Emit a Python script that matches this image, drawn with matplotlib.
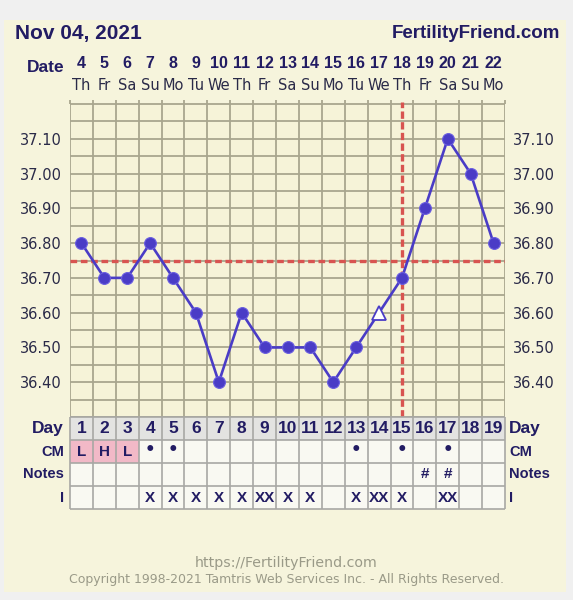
import numpy as np
import matplotlib
matplotlib.use('Agg')
import matplotlib.pyplot as plt
import matplotlib.transforms as mtransforms
from matplotlib.patches import Rectangle

days = list(range(1, 20))
dates = list(range(4, 23))
weekdays = ['Th', 'Fr', 'Sa', 'Su', 'Mo', 'Tu', 'We', 'Th', 'Fr', 'Sa',
            'Su', 'Mo', 'Tu', 'We', 'Th', 'Fr', 'Sa', 'Su', 'Mo']
temps = [36.80, 36.70, 36.70, 36.80, 36.70, 36.60, 36.40, 36.60, 36.50, 36.50,
         36.50, 36.40, 36.50, 36.60, 36.70, 36.90, 37.10, 37.00, 36.80]
open_day = 14
coverline = 36.75
ovulation_day = 15
temp_ticks = [36.40, 36.50, 36.60, 36.70, 36.80, 36.90, 37.00, 37.10]
cm = ['L', 'H', 'L', '•', '•', '', '', '', '', '', '', '', '•', '', '•', '', '•', '', '']
notes = ['', '', '', '', '', '', '', '', '', '', '', '', '', '', '', '#', '#', '', '']
intercourse = ['', '', '', 'X', 'X', 'X', 'X', 'X', 'XX', 'X', 'X', '', 'X', 'XX', 'X', '', 'XX', '', '']
row_labels = ['Day', 'CM', 'Notes', 'I']

navy = '#221c63'
blue = '#4a3cc6'
red = '#d85450'
gridc = '#a9a68e'
tgrid = '#a8a8a4'
bold_font = 'Liberation Sans'
W, H = 573, 600


def fx(x):
    return x / W


def fy(y):
    return 1 - y / H


fig = plt.figure(figsize=(W / 100, H / 100), dpi=100, facecolor='#f0f0f0')
bg = fig.add_axes([0, 0, 1, 1], zorder=-10)
bg.set_xlim(0, W)
bg.set_ylim(H, 0)
bg.axis('off')
bg.add_patch(Rectangle((4, 20), 562, 572, facecolor='#f6f4dc', edgecolor='none'))

# temperature chart
ax = fig.add_axes([fx(70), fy(417), fx(435), 313 / H])
ax.set_facecolor('#f6f3d8')
ax.set_xlim(0.5, 19.5)
ax.set_ylim(36.30, 37.20)
for s in ax.spines.values():
    s.set_visible(False)
xs = np.arange(0.5, 19.6, 1)
ax.vlines(xs, 36.30, 37.20, color=gridc, lw=1.3, zorder=1)
ax.vlines(xs, 37.20, 37.212, color=gridc, lw=1.3, zorder=1, clip_on=False)
ax.hlines(np.arange(36.30, 37.21, 0.05), 0.5, 19.5, color=gridc, lw=1.3, zorder=1, clip_on=False)
ax.axhline(coverline, color=red, lw=2.4, ls=(0, (2.0, 1.1)), zorder=2)
ax.plot([ovulation_day, ovulation_day], [36.30, 37.205], color=red, lw=2.4,
        ls=(0, (2.2, 1.0)), zorder=2, clip_on=False)
ax.plot(days, temps, color=blue, lw=1.9, zorder=3)
cd = [d for d in days if d != open_day]
ct = [t for d, t in zip(days, temps) if d != open_day]
ax.plot(cd, ct, ls='none', marker='o', ms=8.5, color=blue, mec='#6a5ee0', mew=0.8, zorder=4)
ax.plot([open_day], [temps[days.index(open_day)]], ls='none', marker='^', ms=10,
        mfc='white', mec=blue, mew=1.3, zorder=4)
ax.set_xticks([])
ax.set_yticks(temp_ticks)
ax.set_yticklabels(['%.2f' % t for t in temp_ticks])
ax.tick_params(axis='y', length=0, pad=6, labelsize=10.5, labelcolor='#2a2a48',
               labelright=True)

# header
tr = mtransforms.blended_transform_factory(ax.transData, fig.transFigure)
for d, n, w in zip(days, dates, weekdays):
    ax.text(d, fy(63), str(n), transform=tr, ha='center', va='center',
            fontsize=11.5, fontweight='bold', family=bold_font, color=navy)
    ax.text(d, fy(85), w, transform=tr, ha='center', va='center',
            fontsize=10.5, color='#2a2a48')
fig.text(fx(64), fy(68), 'Date', ha='right', va='center', fontsize=12.5,
         fontweight='bold', family=bold_font, color=navy)
fig.text(fx(15), fy(33), 'Nov 04, 2021', ha='left', va='center', fontsize=15,
         fontweight='bold', family=bold_font, color=navy)
fig.text(fx(560), fy(33), 'FertilityFriend.com', ha='right', va='center',
         fontsize=13.5, fontweight='bold', family=bold_font, color=navy)

# table
tb = fig.add_axes([fx(70), fy(509), fx(435), 92 / H])
tb.set_xlim(0.5, 19.5)
tb.set_ylim(4, 0)
tb.axis('off')
tb.add_patch(Rectangle((0.5, 0), 19, 1, facecolor='#e3e3e1', edgecolor='none', zorder=0))
tb.add_patch(Rectangle((0.5, 1), 19, 3, facecolor='#f9f9f2', edgecolor='none', zorder=0))
pink_days = [d for d, c in zip(days, cm) if c in ('L', 'H')]
tb.bar(pink_days, 1, bottom=1, width=1, color='#f2b9c7', zorder=1)
tb.vlines(xs, 0, 4, color=tgrid, lw=1.2, zorder=2, clip_on=False)
tb.hlines([0, 1, 2, 3, 4], 0.5, 19.5, color=tgrid, lw=1.2, zorder=2, clip_on=False)
for d, c, nt, i in zip(days, cm, notes, intercourse):
    tb.text(d, 0.52, str(d), ha='center', va='center', fontsize=12.5,
            fontweight='bold', family=bold_font, color=navy, zorder=3)
    if c == '•':
        tb.text(d, 1.42, c, ha='center', va='center', fontsize=12,
                fontweight='bold', color=navy, zorder=3)
    else:
        tb.text(d, 1.5, c, ha='center', va='center', fontsize=11,
                fontweight='bold', family=bold_font, color=navy, zorder=3)
    tb.text(d, 2.5, nt, ha='center', va='center', fontsize=11,
            fontweight='bold', family=bold_font, color=navy, zorder=3)
    tb.text(d, 3.5, i, ha='center', va='center', fontsize=11,
            fontweight='bold', family=bold_font, color=navy, zorder=3)
ttr = mtransforms.blended_transform_factory(fig.transFigure, tb.transData)
for k, lab in enumerate(row_labels):
    fs = 12.5 if lab == 'Day' else 10.5
    tb.text(fx(64), k + 0.5, lab, transform=ttr, ha='right', va='center',
            fontsize=fs, fontweight='bold', family=bold_font, color=navy)
    tb.text(fx(509), k + 0.5, lab, transform=ttr, ha='left', va='center',
            fontsize=fs, fontweight='bold', family=bold_font, color=navy)

# footer
fig.text(0.5, fy(563), 'https://FertilityFriend.com', ha='center', va='center',
         fontsize=10.2, color='#9a9a88')
fig.text(0.5, fy(580), 'Copyright 1998-2021 Tamtris Web Services Inc. - All Rights Reserved.',
         ha='center', va='center', fontsize=9, color='#9a9a88')

fig.savefig('out.png', dpi=100, facecolor=fig.get_facecolor())
